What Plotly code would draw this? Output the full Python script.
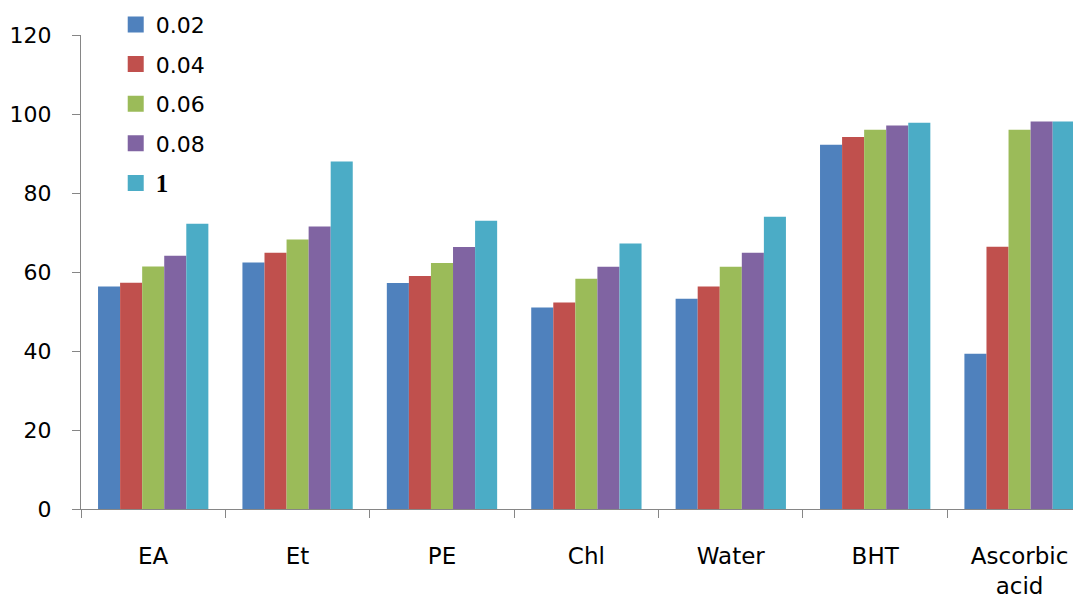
import plotly.graph_objects as go

# Extract / standard categories on the x axis
categories = ["EA", "Et", "PE", "Chl", "Water", "BHT", "Ascorbic<br>acid"]

# Series (concentration) names and their values per category
series_names = ["0.02", "0.04", "0.06", "0.08",
                "<span style='font-family:Liberation Serif;font-size:25px'><b>1</b></span>"]
v_002 = [56.3, 62.4, 57.2, 51.0, 53.2, 92.2, 39.3]
v_004 = [57.3, 64.9, 59.0, 52.3, 56.3, 94.2, 66.4]
v_006 = [61.4, 68.2, 62.3, 58.3, 61.3, 96.0, 96.0]
v_008 = [64.1, 71.5, 66.3, 61.3, 64.9, 97.1, 98.1]
v_1 = [72.2, 88.0, 73.0, 67.2, 74.0, 97.8, 98.1]
series_values = [v_002, v_004, v_006, v_008, v_1]

colors = ["#4F81BD", "#C0504D", "#9BBB59", "#8064A2", "#4BACC6"]

fig = go.Figure()
for i, (name, vals, col) in enumerate(zip(series_names, series_values, colors)):
    fig.add_trace(go.Bar(
        x=categories, y=vals, name=name,
        marker=dict(color=col, line=dict(width=0)),
        legendgroup=f"g{i}", showlegend=False,
    ))
    # legend key: larger square swatch for each series
    fig.add_trace(go.Scatter(
        x=[None], y=[None], name=name, mode="markers",
        marker=dict(symbol="square", size=16, color=col, line=dict(width=0)),
        legendgroup=f"g{i}", showlegend=True, hoverinfo="skip",
    ))

font_family = "DejaVu Sans"
fig.update_layout(
    width=1073, height=599,
    margin=dict(l=81, r=0, t=35, b=90),
    paper_bgcolor="white", plot_bgcolor="white",
    barmode="group", bargap=0.236, bargroupgap=0,
    font=dict(family=font_family, size=22, color="black"),
    showlegend=True,
    legend=dict(
        x=0.035, y=1.066, xanchor="left", yanchor="top",
        font=dict(family=font_family, size=22, color="black"),
        traceorder="grouped", tracegroupgap=8,
        itemsizing="trace", itemwidth=30,
        bgcolor="rgba(0,0,0,0)",
    ),
    xaxis=dict(
        range=[-0.5, 6.37], tickson="boundaries",
        ticks="outside", ticklen=8, tickcolor="#868686",
        showline=True, linecolor="#868686", linewidth=1,
        showgrid=False, zeroline=False,
        tickfont=dict(family=font_family, size=23, color="black"),
        ticklabelstandoff=26,
    ),
    yaxis=dict(
        range=[0, 120], tickvals=[0, 20, 40, 60, 80, 100, 120],
        ticks="outside", ticklen=8, tickcolor="#868686",
        showline=True, linecolor="#868686", linewidth=1,
        showgrid=False, zeroline=False,
        tickfont=dict(family=font_family, size=22, color="black"),
        ticklabelstandoff=16,
    ),
)

fig.write_html("out.html")
